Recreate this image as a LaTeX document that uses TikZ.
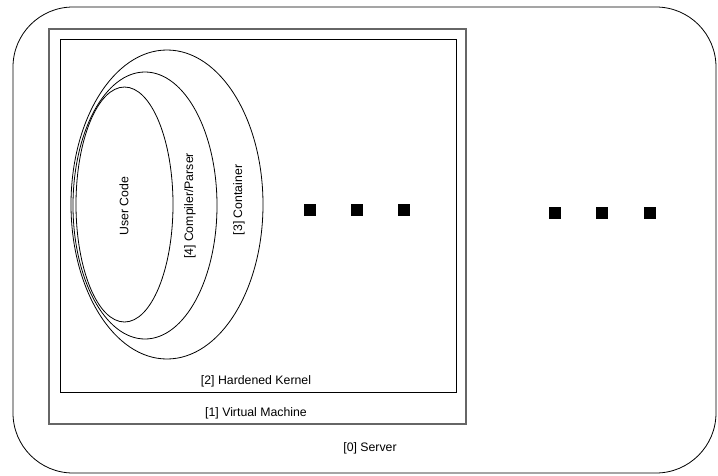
\documentclass[tikz,border=0pt]{standalone}
\usepackage{fontspec}
\setmainfont{Liberation Sans}
\usetikzlibrary{shapes.geometric}
\tikzset{
  box/.style={draw, line width=0.8pt, inner sep=0pt},
  vmbox/.style={draw=black!60, line width=1.2pt, inner sep=0pt},
  oval/.style={draw, ellipse, line width=0.8pt, inner sep=0pt},
  lbl/.style={font=\fontsize{12.3}{14}\selectfont, inner sep=1pt},
  dot/.style={fill=black, minimum size=11.5pt, inner sep=0pt}
}
\begin{document}
\begin{tikzpicture}[x=1pt,y=-1pt]
\useasboundingbox (0,0) rectangle (718,475);
% server
\node[box, rounded corners=60pt, minimum width=703pt, minimum height=466pt] (server) at (364.5,240) {};
% virtual machine
\node[vmbox, minimum width=417pt, minimum height=395pt] (vm) at (257.5,226.5) {};
% kernel
\node[box, minimum width=396pt, minimum height=353pt] (kernel) at (258,215.5) {};
% ellipses
\node[oval, minimum width=192pt, minimum height=309pt] (container) at (167,204.5) {};
\node[oval, minimum width=144pt, minimum height=267pt] (compiler) at (145,205.5) {};
\node[oval, minimum width=97pt, minimum height=235pt] (usercode) at (124.5,204.5) {};
% labels
\node[lbl, rotate=90] (lusr) at (124,206) {User Code};
\node[lbl, rotate=90] (lcomp) at (190,206) {[4] Compiler/Parser};
\node[lbl, rotate=90] (lcont) at (239,200) {[3] Container};
\node[lbl] (lkern) at (256,381) {[2] Hardened Kernel};
\node[lbl] (lvm) at (256,413) {[1] Virtual Machine};
\node[lbl] (lsrv) at (370,448) {[0] Server};
% dots inside VM
\node[dot] (d1) at (310,210) {};
\node[dot] (d2) at (357,210) {};
\node[dot] (d3) at (404,210) {};
% dots outside
\node[dot] (d4) at (555,213) {};
\node[dot] (d5) at (602,213) {};
\node[dot] (d6) at (650,213) {};
\end{tikzpicture}
\end{document}
